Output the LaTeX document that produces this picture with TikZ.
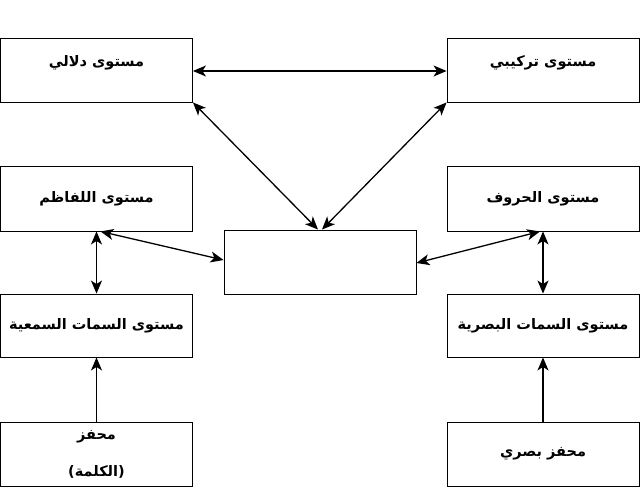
\documentclass[tikz,border=0pt]{standalone}
\usepackage{fontspec}
\usetikzlibrary{arrows.meta,calc}
\newfontfamily\arabicfont[Script=Arabic]{DejaVu Sans}
\TeXXeTstate=1
\newcommand{\ar}[1]{{\arabicfont\bfseries\beginR #1\endR}}
\begin{document}
\begin{tikzpicture}[x=1pt,y=-1pt,
  box/.style={draw,line width=0.9pt,minimum width=192pt,minimum height=64pt,inner sep=0pt,font=\fontsize{14.5}{18}\selectfont,align=center},
  link/.style={line width=1.3pt,{Stealth[length=13pt,width=11pt,inset=3.5pt]}-{Stealth[length=13pt,width=11pt,inset=3.5pt]}},
  one/.style={line width=1.3pt,-{Stealth[length=13pt,width=11pt,inset=3.5pt]}}]
\useasboundingbox (0,0) rectangle (640,498);
\node[box] (tl) at (96.5,70) {\raisebox{4pt}[0pt][0pt]{\ar{مستوى دلالي}}};
\node[box] (tr) at (543,70) {\raisebox{4pt}[0pt][0pt]{\ar{مستوى تركيبي}}};
\node[box,minimum height=65pt] (ml) at (96.5,198.5) {\ar{مستوى اللفاظم}};
\node[box,minimum height=65pt] (mr) at (543,198.5) {\ar{مستوى الحروف}};
\node[box] (c) at (320,262) {};
\node[box,minimum height=63pt] (ll) at (96.5,325.5) {\ar{مستوى السمات السمعية}};
\node[box,minimum height=63pt] (lr) at (543,325.5) {\ar{مستوى السمات البصرية}};
\node[box] (bl) at (96.5,454) {\raisebox{-2pt}{\ar{محفز}}\\[19pt]\raisebox{-2pt}{\ar{(الكلمة)}}};
\node[box] (br) at (543,454) {\ar{محفز بصري}};
\draw[link] ($(tl.east)+(0,1)$) -- ($(tr.west)+(0,1)$);
\draw[link] (tl.south east) -- ($(c.north)+(-2,0)$);
\draw[link] (tr.south west) -- ($(c.north)+(2,0)$);
\draw[link] ($(ml.south)+(4,0)$) -- ($(c.west)+(0,-2)$);
\draw[link] ($(c.east)+(0,1)$) -- ($(mr.south)+(-3,0)$);
\draw[link] (ml.south) -- (ll.north);
\draw[link] (mr.south) -- (lr.north);
\draw[one] (bl.north) -- (ll.south);
\draw[one] (br.north) -- (lr.south);
\end{tikzpicture}
\end{document}
